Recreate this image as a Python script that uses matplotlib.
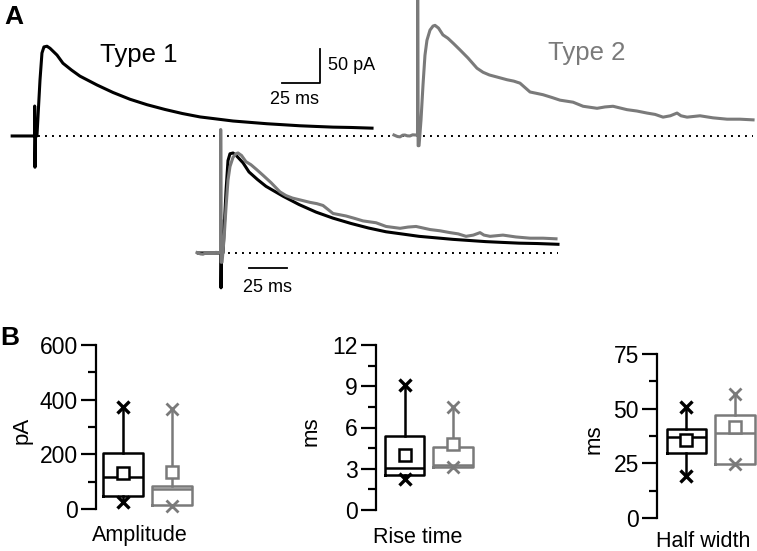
import matplotlib
matplotlib.use('Agg')
import matplotlib.pyplot as plt
import numpy as np

plt.rcParams['font.family'] = ['Liberation Sans', 'DejaVu Sans']

# ---------------- data ----------------
# Type 1 trace (ms, pA)
t1 = [-15, -10, -5, -1, -0.3, -0.2, 0.0, 0.3, 1.3, 3.3, 4.6, 5.9, 7.9, 9.9,
      14.5, 18.4, 24, 29.6, 40.8, 51.3, 62.5, 73.7, 85.5, 97, 108.6, 119.5,
      130.3, 141.5, 152.6, 163.5, 174.3, 185, 196.1, 208, 221.7]
i1 = [0, 0, 0, 0, 0, 44, -46, 0, 0, 82, 122, 131, 132, 129,
      119, 107, 97, 88, 75, 64, 54, 46, 39, 33, 28, 25,
      22, 20, 18, 16.5, 15, 14, 13, 12.5, 11.5]

# Type 2 trace (ms, pA)
t2 = [-15.8, -13.5, -11.8, -10, -8.6, -7, -5.3, -3.5, -1.3, -0.3, -0.2, 0.1,
      0.7, 2.0, 3.3, 4.6, 5.9, 7.9, 9.9, 11.2, 13.5, 16.4, 19.7, 23.5, 27.6,
      32.9, 38.8, 42.8, 47, 52.0, 58.6, 63, 67.1, 73.7, 78, 82.2, 88, 93.4,
      102, 108.6, 117.8, 123, 128.3, 137.5, 144, 150.7, 156, 161.2, 166,
      170.4, 173, 177, 185.5, 194, 203.3, 211.8, 220.4]
i2 = [0.7, -1.5, -2, 0.5, 0.7, -0.5, -0.7, 1, 0.7, 0, 200, -15,
      -15, 23, 74, 118, 140, 155, 161, 162, 158, 148, 143, 135, 126,
      114, 99, 93, 89, 86, 82, 80, 77, 64, 62, 60, 56, 52,
      49, 43, 40, 42, 43, 38, 36, 33, 31, 27, 29,
      33, 29, 27, 29, 26, 24, 24, 23]

# Box plot summaries: [Type 1, Type 2]
amp_q1 = [48, 15];     amp_med = [117, 73];   amp_q3 = [205, 84]
amp_mean = [132, 135]; amp_min = [26, 11];    amp_max = [373, 366]

rise_q1 = [2.55, 3.13];  rise_med = [3.05, 3.27]; rise_q3 = [5.38, 4.58]
rise_mean = [4.0, 4.8];  rise_min = [2.25, 3.1];  rise_max = [9.1, 7.5]

hw_q1 = [29.7, 24.7];   hw_med = [37.0, 38.9];  hw_q3 = [40.7, 47.1]
hw_mean = [35.7, 41.6]; hw_min = [19.2, 24.7];  hw_max = [50.8, 56.7]

amp_ticks = [0, 200, 400, 600]
rise_ticks = [0, 3, 6, 9, 12]
hw_ticks = [0, 25, 50, 75]

BLACK = '#000000'
GREY = '#7a7a7a'
colors = [BLACK, GREY]

# ---------------- figure ----------------
W, H = 757, 551
fig = plt.figure(figsize=(W / 100, H / 100), dpi=100)


def px_axes(x0, x1, y0, y1):
    ax = fig.add_axes([x0 / W, 1 - y1 / H, (x1 - x0) / W, (y1 - y0) / H])
    ax.patch.set_alpha(0)
    return ax


dot_style = dict(color=BLACK, lw=1.4, linestyle=(0, (1, 2.6)))
trace_lw = 2.2

# Top-left: Type 1
ax1 = px_axes(0, 400, 0, 175)
ax1.set_xlim(-23.0, 240.1)
ax1.set_ylim(-57.4, 200)
ax1.axis('off')
ax1.plot([2, 472], [0, 0], clip_on=False, **dot_style)
ax1.plot(t1, i1, color=BLACK, lw=trace_lw, solid_joinstyle='round')
ax1.text(68.4, 119, 'Type 1', fontsize=18.5, ha='center', va='center', color=BLACK)
# scale bar
ax1.plot([162.5, 187.5, 187.5], [78, 78, 128], color=BLACK, lw=1.3)
ax1.text(192.8, 104, '50 pA', fontsize=13, ha='left', va='center')
ax1.text(171, 54, '25 ms', fontsize=13, ha='center', va='center')

# Top-right: Type 2
ax2 = px_axes(390, 757, 0, 175)
ax2.set_xlim(-18.4, 223.0)
ax2.set_ylim(-58.1, 199.3)
ax2.axis('off')
ax2.plot(t2, i2, color=GREY, lw=trace_lw, solid_joinstyle='round')
ax2.text(111, 121, 'Type 2', fontsize=18.5, ha='center', va='center', color=GREY)

# Overlay (normalised)
t1a, i1a = np.array(t1), np.array(i1, dtype=float)
t2a, i2a = np.array(t2), np.array(i2, dtype=float)
peak1 = i1a[t1a > 1].max()
peak2 = i2a[t2a > 1].max()
ax3 = px_axes(190, 570, 125, 300)
ax3.set_xlim(-20.4, 229.6)
ax3.set_ylim(-0.47, 1.28)
ax3.axis('off')
ax3.plot([-14, 222], [0, 0], **dot_style)
ax3.plot(t1a, i1a / peak1, color=BLACK, lw=trace_lw, solid_joinstyle='round')
ax3.plot(t2a, i2a / peak2, color=GREY, lw=trace_lw, solid_joinstyle='round')
ax3.plot([18.4, 43.4], [-0.15, -0.15], color=BLACK, lw=1.3)
ax3.text(30.9, -0.34, '25 ms', fontsize=13, ha='center', va='center')

# Panel letters
fig.text(4 / W, 1 - 17 / H, 'A', fontsize=19, fontweight='bold', ha='left', va='center')
fig.text(0 / W, 1 - 338 / H, 'B', fontsize=19, fontweight='bold', ha='left', va='center')


def box_panel(ax, q1, med, q3, mean, mn, mx, ticks, ylabel, xlabel, xlim,
              lab_x, xl_x, xl_y):
    ax.set_xlim(*xlim)
    ax.set_ylim(ticks[0], ticks[-1])
    for k in range(2):
        c = colors[k]
        st = [dict(med=med[k], q1=q1[k], q3=q3[k], whislo=mn[k], whishi=mx[k],
                   mean=mean[k], fliers=[])]
        ax.bxp(st, positions=[k + 1], widths=0.82, showmeans=True,
               showcaps=False, showfliers=False, patch_artist=False,
               boxprops=dict(color=c, lw=1.8),
               whiskerprops=dict(color=c, lw=1.8),
               medianprops=dict(color=c, lw=1.8),
               meanprops=dict(marker='s', markerfacecolor='white',
                              markeredgecolor=c, markersize=8,
                              markeredgewidth=1.8, zorder=4))
        ax.plot([k + 1, k + 1], [mn[k], mx[k]], linestyle='none', marker='x',
                color=c, markersize=9, markeredgewidth=2.4 if k == 0 else 2.0,
                zorder=5, clip_on=False)
    for s in ['top', 'right', 'bottom']:
        ax.spines[s].set_visible(False)
    ax.spines['left'].set_linewidth(1.6)
    ax.set_xticks([])
    ax.set_yticks(ticks)
    step = ticks[1] - ticks[0]
    ax.set_yticks([v + step / 2 for v in ticks[:-1]], minor=True)
    ax.tick_params(axis='y', which='major', length=11, width=1.6, pad=2,
                   labelsize=16.5)
    ax.tick_params(axis='y', which='minor', length=6, width=1.6)
    ax.set_ylabel(ylabel, fontsize=16)
    ax.yaxis.set_label_coords(lab_x, 0.48)
    ax.set_xlabel(xlabel, fontsize=15.5, va='top')
    ax.xaxis.set_label_coords(xl_x, xl_y)


axA = px_axes(96, 200, 345, 509)
box_panel(axA, amp_q1, amp_med, amp_q3, amp_mean, amp_min, amp_max, amp_ticks,
          'pA', 'Amplitude', (0.449, 2.571), -0.606, 0.42, -0.100)

axR = px_axes(376, 480, 345, 510)
box_panel(axR, rise_q1, rise_med, rise_q3, rise_mean, rise_min, rise_max,
          rise_ticks, 'ms', 'Rise time', (0.412, 2.557), -0.52, 0.40, -0.106)

axH = px_axes(657, 757, 354, 518)
box_panel(axH, hw_q1, hw_med, hw_q3, hw_mean, hw_min, hw_max, hw_ticks,
          'ms', 'Half width', (0.392, 2.454), -0.52, 0.46, -0.080)

fig.savefig('out.png', dpi=100)
